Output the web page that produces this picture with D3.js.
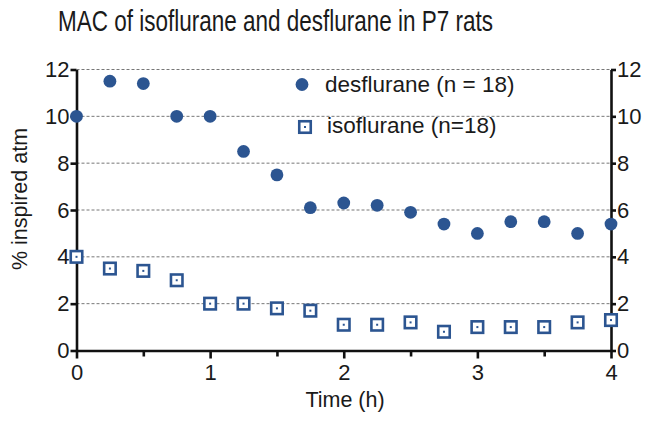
<!DOCTYPE html>
<html>
<head>
<meta charset="utf-8">
<script src="https://cdn.jsdelivr.net/npm/d3@7"></script>
<style>
  body { margin: 0; background: #fff; }
  text { font-family: "Liberation Sans", Arial, sans-serif; fill: #1a1a1a; }
</style>
</head>
<body>
<div id="chart"></div>
<script>
// data
const times = [0, 0.25, 0.5, 0.75, 1, 1.25, 1.5, 1.75, 2, 2.25, 2.5, 2.75, 3, 3.25, 3.5, 3.75, 4];
const desflurane = [10, 11.5, 11.4, 10, 10, 8.5, 7.5, 6.1, 6.3, 6.2, 5.9, 5.4, 5.0, 5.5, 5.5, 5.0, 5.4];
const isoflurane = [4, 3.5, 3.4, 3.0, 2.0, 2.0, 1.8, 1.7, 1.1, 1.1, 1.2, 0.8, 1.0, 1.0, 1.0, 1.2, 1.3];
const yTicks = [0, 2, 4, 6, 8, 10, 12];
const xTicks = [0, 1, 2, 3, 4];
const xMinor = [0.5, 1.5, 2.5, 3.5];
const legendLabels = ["desflurane (n = 18)", "isoflurane (n=18)"];

const width = 651, height = 422;
const margin = {top: 69.5, right: 40, bottom: 71.5, left: 76.5};
const color = "#2c5591";

const svg = d3.select("#chart").append("svg")
    .attr("width", width)
    .attr("height", height);

const x = d3.scaleLinear().domain([0, 4]).range([margin.left, width - margin.right]);
const y = d3.scaleLinear().domain([0, 12]).range([height - margin.bottom, margin.top]);

// dashed grid
svg.append("g").selectAll("line")
    .data(yTicks.filter(d => d > 0))
    .enter().append("line")
    .attr("x1", x(0)).attr("x2", x(4))
    .attr("y1", d => y(d)).attr("y2", d => y(d))
    .attr("stroke", "#777")
    .attr("stroke-width", 1)
    .attr("stroke-dasharray", "3,2");

// axes
const yLeft = svg.append("g")
    .attr("transform", `translate(${x(0)},0)`)
    .call(d3.axisLeft(y).tickValues(yTicks).tickSize(6).tickPadding(1).tickSizeOuter(0));
const yRight = svg.append("g")
    .attr("transform", `translate(${x(4)},0)`)
    .call(d3.axisRight(y).tickValues(yTicks).tickSize(5).tickPadding(1).tickSizeOuter(0));
const xAxis = svg.append("g")
    .attr("transform", `translate(0,${y(0)})`)
    .call(d3.axisBottom(x).tickValues(xTicks).tickFormat(d3.format("d")).tickSize(8).tickPadding(6).tickSizeOuter(0));

svg.append("g")
    .attr("transform", `translate(0,${y(0)})`)
    .call(d3.axisBottom(x).tickValues(xMinor).tickSize(6).tickFormat("").tickSizeOuter(0))
    .select(".domain").remove();

[yLeft, yRight, xAxis].forEach(g => {
    g.selectAll("text").style("font-size", "22px").attr("fill", "#1a1a1a");
});
svg.selectAll(".domain, .tick line")
    .attr("stroke", "#111")
    .attr("stroke-width", 2.6);

// desflurane
svg.append("g").selectAll("circle")
    .data(times.map((t, i) => [t, desflurane[i]]))
    .enter().append("circle")
    .attr("cx", d => x(d[0]))
    .attr("cy", d => y(d[1]))
    .attr("r", 6.4)
    .attr("fill", color);

// isoflurane
const sq = 11.5;
const iso = svg.append("g").selectAll("g")
    .data(times.map((t, i) => [t, isoflurane[i]]))
    .enter().append("g")
    .attr("transform", d => `translate(${x(d[0])},${y(d[1])})`);
iso.append("rect")
    .attr("x", -sq / 2).attr("y", -sq / 2)
    .attr("width", sq).attr("height", sq)
    .attr("fill", "#fff")
    .attr("stroke", color)
    .attr("stroke-width", 2.6);
iso.append("rect")
    .attr("x", -1).attr("y", -1)
    .attr("width", 2).attr("height", 2)
    .attr("fill", color);

// legend
const legend = svg.append("g");
legend.append("circle").attr("cx", 302).attr("cy", 84.5).attr("r", 6.4).attr("fill", color);
const lsq = legend.append("g").attr("transform", "translate(305,127)");
lsq.append("rect").attr("x", -sq / 2).attr("y", -sq / 2).attr("width", sq).attr("height", sq)
    .attr("fill", "#fff").attr("stroke", color).attr("stroke-width", 2.6);
lsq.append("rect").attr("x", -1).attr("y", -1).attr("width", 2).attr("height", 2).attr("fill", color);
legend.selectAll("text.lab")
    .data(legendLabels)
    .enter().append("text")
    .attr("class", "lab")
    .attr("x", (d, i) => i === 0 ? 325 : 327)
    .attr("y", (d, i) => i === 0 ? 92 : 133)
    .style("font-size", "22.5px")
    .text(d => d);

// titles
svg.append("text")
    .attr("x", 58).attr("y", 31)
    .attr("textLength", 435)
    .attr("lengthAdjust", "spacingAndGlyphs")
    .style("font-size", "29px")
    .text("MAC of isoflurane and desflurane in P7 rats");

svg.append("text")
    .attr("x", 345).attr("y", 407)
    .attr("text-anchor", "middle")
    .style("font-size", "21.5px")
    .text("Time (h)");

svg.append("text")
    .attr("transform", `translate(27,199) rotate(-90)`)
    .attr("text-anchor", "middle")
    .style("font-size", "21.5px")
    .text("% inspired atm");
</script>
</body>
</html>
